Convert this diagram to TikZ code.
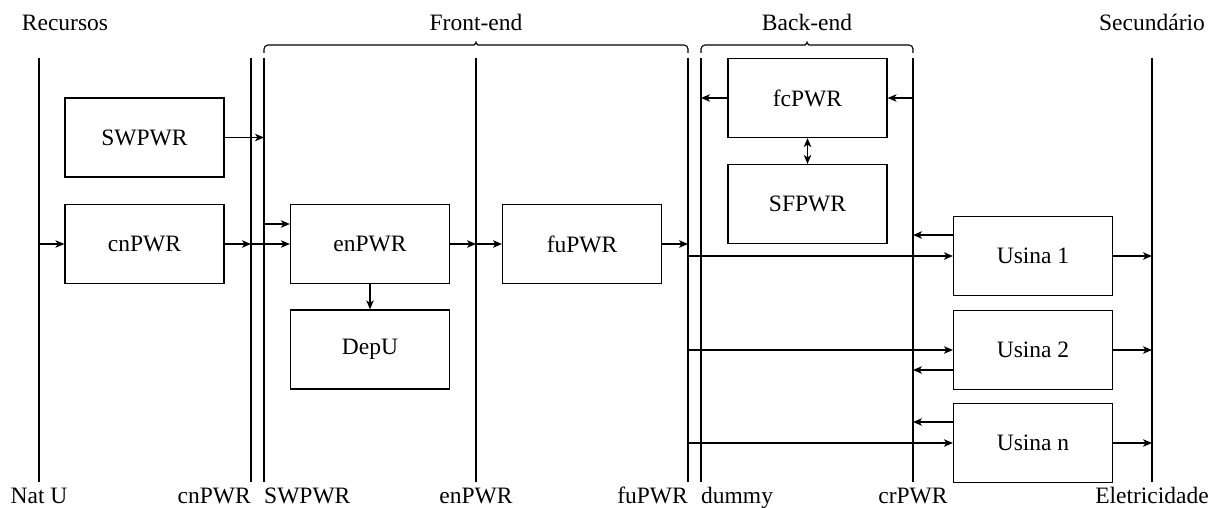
\documentclass[tikz,border=0pt]{standalone}
\usepackage{fontspec}
\setmainfont{Liberation Serif}
\usetikzlibrary{arrows.meta,calc}

\begin{document}
\begin{tikzpicture}[x=1pt,y=-1pt,
  txt/.style={font=\fontsize{23.5}{28}\selectfont},
  box/.style={txt, draw, line width=1.2pt, minimum width=159pt, minimum height=79pt, inner sep=0pt},
  rail/.style={line width=1.2pt},
  arr/.style={line width=1.2pt, -{Stealth[length=9pt,width=7.5pt,inset=2.5pt]}},
  darr/.style={line width=1.2pt, {Stealth[length=9pt,width=7.5pt,inset=2.5pt]}-{Stealth[length=9pt,width=7.5pt,inset=2.5pt]}},
  lbl/.style={txt, inner sep=0pt, anchor=base},
  brace/.style={line width=1.1pt, rounded corners=4pt}]

\useasboundingbox (0,0) rectangle (1214,508);

% vertical rails (top ends)
\coordinate (L-nat) at (39,58);
\coordinate (L-cn)  at (251,58);
\coordinate (L-sw)  at (264,58);
\coordinate (L-en)  at (476,58);
\coordinate (L-fu)  at (688,58);
\coordinate (L-dm)  at (701,58);
\coordinate (L-cr)  at (913,58);
\coordinate (L-el)  at (1152,58);
\foreach \r in {nat,cn,sw,en,fu,dm,cr,el}
  \draw[rail] (L-\r) -- ++(0,424);

% group braces
\draw[brace] (264,53) -- (264,45) -- (470,45) .. controls (474,45) and (476,43) .. (476,39)
  .. controls (476,43) and (478,45) .. (482,45) -- (688,45) -- (688,53);
\draw[brace] (701,53) -- (701,45) -- (801,45) .. controls (805,45) and (807,43) .. (807,39)
  .. controls (807,43) and (809,45) .. (813,45) -- (913,45) -- (913,53);

% headings
\node[lbl] (h-rec) at (65,31) {Recursos};
\node[lbl] (h-fe)  at (476,31) {Front-end};
\node[lbl] (h-be)  at (807,31) {Back-end};
\node[lbl] (h-sec) at (1152,31) {Secundário};

% rail names
\node[lbl] (b-nat) at (39,503) {Nat U};
\node[lbl, anchor=base east] (b-cn) at (251,503) {cnPWR};
\node[lbl, anchor=base west] (b-sw) at (264,503) {SWPWR};
\node[lbl] (b-en) at (476,503) {enPWR};
\node[lbl, anchor=base east] (b-fu) at (688,503) {fuPWR};
\node[lbl, anchor=base west] (b-dm) at (701,503) {dummy};
\node[lbl] (b-cr) at (913,503) {crPWR};
\node[lbl] (b-el) at (1152,503) {Eletricidade};

% process blocks
\node[box] (SWPWR) at (144.5,137.5) {SWPWR};
\node[box] (cnPWR) at (144.5,244) {cnPWR};
\node[box] (enPWR) at (370,244) {enPWR};
\node[box] (DepU)  at (370,349.5) {DepU};
\node[box] (fuPWR) at (582,244) {fuPWR};
\node[box] (fcPWR) at (807.5,98) {fcPWR};
\node[box] (SFPWR) at (807.5,204) {SFPWR};
\node[box] (U1) at (1033,256) {Usina 1};
\node[box] (U2) at (1033,350) {Usina 2};
\node[box] (Un) at (1033,443) {Usina n};

% flows
\draw[arr] (L-nat |- cnPWR.west) -- (cnPWR.west);
\draw[arr] (cnPWR.east) -- (L-cn |- cnPWR.east);
\draw[arr] (SWPWR.east) -- (L-sw |- SWPWR.east);
\draw[arr] (L-cn |- enPWR.west) -- (enPWR.west);
\draw[arr] ($(L-sw |- enPWR.west)+(0,-20)$) -- ($(enPWR.west)+(0,-20)$);
\draw[arr] (enPWR.south) -- (DepU.north);
\draw[arr] (enPWR.east) -- (L-en |- enPWR.east);
\draw[arr] (L-en |- fuPWR.west) -- (fuPWR.west);
\draw[arr] (fuPWR.east) -- (L-fu |- fuPWR.east);

\draw[arr] (L-fu |- U1.west) -- (U1.west);
\draw[arr] (L-fu |- U2.west) -- (U2.west);
\draw[arr] (L-fu |- Un.west) -- (Un.west);

\draw[arr] ($(U1.west)+(0,-21)$) -- ($(L-cr |- U1.west)+(0,-21)$);
\draw[arr] ($(U2.west)+(0,20)$) -- ($(L-cr |- U2.west)+(0,20)$);
\draw[arr] ($(Un.west)+(0,-21)$) -- ($(L-cr |- Un.west)+(0,-21)$);

\draw[arr] (U1.east) -- (L-el |- U1.east);
\draw[arr] (U2.east) -- (L-el |- U2.east);
\draw[arr] (Un.east) -- (L-el |- Un.east);

\draw[arr] (fcPWR.west) -- (L-dm |- fcPWR.west);
\draw[arr] (L-cr |- fcPWR.east) -- (fcPWR.east);
\draw[darr] (fcPWR.south) -- (SFPWR.north);

\end{tikzpicture}
\end{document}
